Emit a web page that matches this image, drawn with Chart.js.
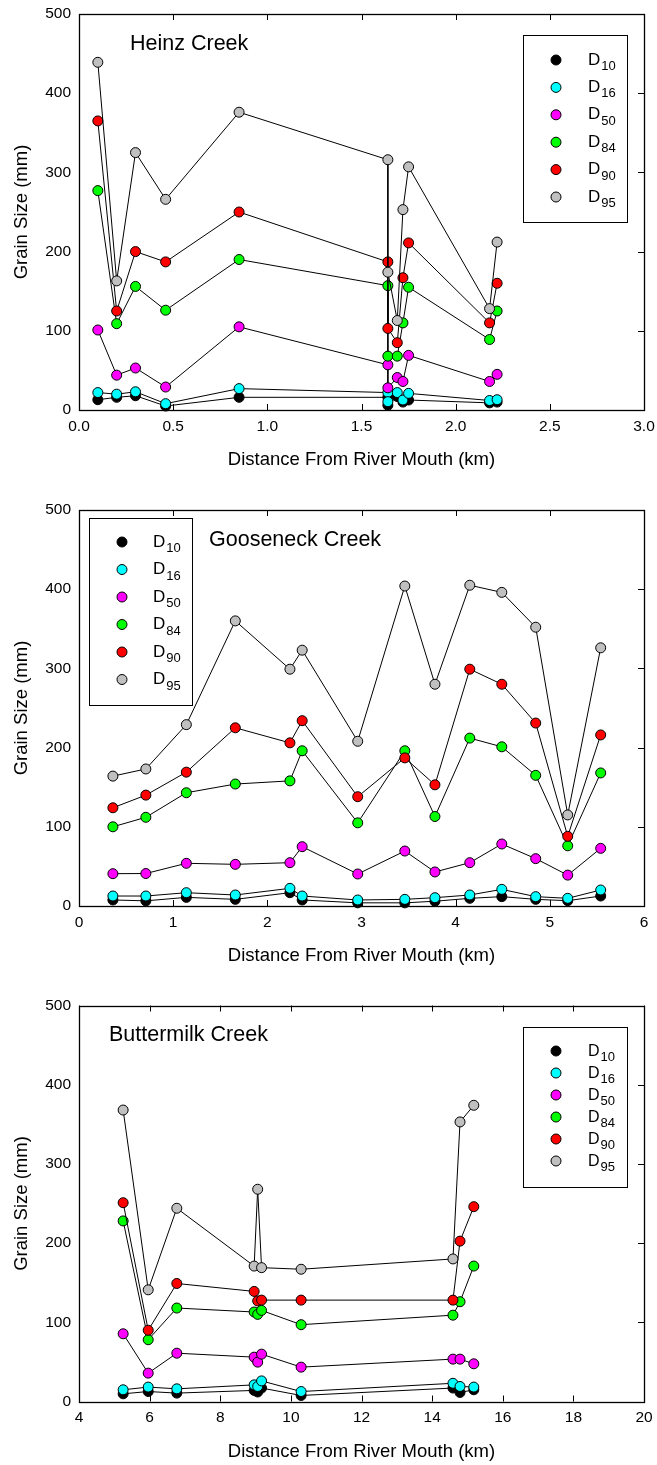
<!DOCTYPE html>
<html>
<head>
<meta charset="utf-8">
<script src="https://cdn.jsdelivr.net/npm/chart.js@4.4.1/dist/chart.umd.min.js"></script>
<style>
  html, body { margin: 0; padding: 0; background: #fff; }
  body { width: 657px; height: 1465px; position: relative; overflow: hidden; }
  canvas { position: absolute; left: 0; }
</style>
</head>
<body>
<canvas id="heinz"></canvas>
<canvas id="goose"></canvas>
<canvas id="butter"></canvas>
<script>
// grain size percentiles, same order in every panel
const sizeSubs = ['10', '16', '50', '84', '90', '95'];
const sizeColors = ['#000000', '#00ffff', '#ff00ff', '#00ff00', '#ff0000', '#c0c0c0'];
const yTicks = [0, 100, 200, 300, 400, 500];

// Heinz Creek
const heinzDist = [0.10, 0.20, 0.30, 0.46, 0.85, 1.64, 1.64, 1.69, 1.72, 1.75, 2.18, 2.22];
const heinzD10 = [13, 16, 18, 5, 16, 16, 6, 17, 10, 12.6, 9, 10];
const heinzD16 = [22, 20, 23, 8, 27, 22, 10.5, 22, 12.6, 21, 12, 13];
const heinzD50 = [101, 44, 53, 29, 105, 57, 28, 41, 36, 69, 36, 45];
const heinzD84 = [277, 109, 156, 126, 190, 157, 68, 68, 110, 155, 89, 125];
const heinzD90 = [365, 125, 200, 187, 250, 187, 103, 85, 167, 211, 110, 160];
const heinzD95 = [439, 163, 325, 266, 376, 316, 174, 113, 253, 307, 128, 212];
const heinzTicks = [0, 0.5, 1.0, 1.5, 2.0, 2.5, 3.0];

// Gooseneck Creek
const gooseDist = [0.36, 0.71, 1.14, 1.66, 2.24, 2.37, 2.96, 3.46, 3.78, 4.15, 4.49, 4.85, 5.19, 5.54];
const gooseD10 = [7.6, 6.5, 10.9, 8.4, 16.8, 7.6, 4, 4, 6, 9.7, 11.8, 8.4, 6.7, 12.6];
const gooseD16 = [12.6, 12.6, 16.8, 13.9, 22.3, 12.6, 7.6, 8.4, 10.5, 13.9, 21, 11.8, 9.7, 20.2];
const gooseD50 = [40.8, 41, 53.9, 52.6, 54.7, 74.9, 40.4, 69.4, 43, 54.7, 78.3, 59.8, 39, 72.8];
const gooseD84 = [100, 112, 143, 154, 158, 196, 105, 196, 113, 212, 201, 165, 76, 168];
const gooseD90 = [124, 140, 169, 225, 206, 234, 138, 187, 153, 299, 280, 231, 88, 216];
const gooseD95 = [164, 173, 229, 360, 299, 323, 208, 404, 280, 405, 396, 352, 115, 326];
const gooseTicks = [0, 1, 2, 3, 4, 5, 6];

// Buttermilk Creek
const butterDist = [5.25, 5.96, 6.77, 8.96, 9.06, 9.17, 10.29, 14.59, 14.79, 15.18];
const butterD10 = [9.7, 12.6, 10.6, 14, 12, 17, 7.6, 17, 11.4, 14.8];
const butterD16 = [14.8, 18.2, 16, 21, 19, 26, 12.6, 23, 19, 18.2];
const butterD50 = [85.5, 35.8, 61, 56, 49.7, 59.8, 43.4, 53.5, 53.5, 47.6];
const butterD84 = [228, 78, 118, 113, 110, 115, 97, 109, 126, 171];
const butterD90 = [251, 90, 149, 139, 127, 128, 128, 128, 202.5, 246];
const butterD95 = [368, 141, 244, 171, 268, 169, 167, 180, 353, 374];
const butterTicks = [4, 6, 8, 10, 12, 14, 16, 18, 20];

const FONT = '"Liberation Sans", Arial, sans-serif';
Chart.defaults.font.family = FONT;
Chart.defaults.color = '#000';

// frame round the plot, small inward ticks on top, bottom and right
const framePlugin = {
  id: 'frame',
  beforeDatasetsDraw(chart) {
    const ctx = chart.ctx, a = chart.chartArea;
    const xs = chart.scales.x, ys = chart.scales.y;
    ctx.save();
    ctx.strokeStyle = '#000';
    ctx.lineWidth = 1;
    ctx.beginPath();
    xs.ticks.forEach(t => {
      const px = Math.round(xs.getPixelForValue(t.value)) + 0.5;
      ctx.moveTo(px, a.bottom); ctx.lineTo(px, a.bottom - 6);
      ctx.moveTo(px, a.top); ctx.lineTo(px, a.top + 6);
    });
    ys.ticks.forEach(t => {
      const py = Math.round(ys.getPixelForValue(t.value)) + 0.5;
      ctx.moveTo(a.right, py); ctx.lineTo(a.right - 6, py);
    });
    ctx.stroke();
    ctx.lineWidth = 1.3;
    ctx.strokeRect(Math.round(a.left) + 0.5, Math.round(a.top) + 0.5,
                   Math.round(a.right - a.left), Math.round(a.bottom - a.top));
    ctx.restore();
  }
};

// panel name and the boxed legend with subscripts
const notesPlugin = {
  id: 'notes',
  afterDraw(chart, args, opts) {
    const ctx = chart.ctx;
    ctx.save();
    ctx.fillStyle = '#000';
    ctx.textBaseline = 'alphabetic';
    ctx.font = '21.5px ' + FONT;
    ctx.fillText(opts.title, opts.titleX, opts.titleY);

    const L = opts.legend;
    ctx.strokeStyle = '#000';
    ctx.lineWidth = 1;
    ctx.strokeRect(L.x + 0.5, L.y + 0.5, L.w, L.h);
    sizeSubs.forEach((s, i) => {
      const my = L.row0 + i * L.gap;
      ctx.beginPath();
      ctx.arc(L.mx, my, 5, 0, Math.PI * 2);
      ctx.fillStyle = sizeColors[i];
      ctx.fill();
      ctx.stroke();
      ctx.fillStyle = '#000';
      ctx.font = L.dSize + 'px ' + FONT;
      ctx.fillText('D', L.tx, my + 4.5);
      const w = ctx.measureText('D').width;
      ctx.font = '13px ' + FONT;
      ctx.fillText(s, L.tx + w + 1, my + 10);
    });
    ctx.restore();
  }
};

function makePanel(id, top, height, areaTop, areaBottom, dist, series, xTicks, decimals, notes) {
  const cv = document.getElementById(id);
  cv.width = 657; cv.height = height;
  cv.style.top = top + 'px';
  cv.style.width = '657px'; cv.style.height = height + 'px';
  const axisH = height - (areaBottom - top);
  const xTitleGap = 50;

  new Chart(cv.getContext('2d'), {
    type: 'line',
    data: {
      datasets: series.map((vals, i) => ({
        label: 'D' + sizeSubs[i],
        data: dist.map((x, j) => ({ x: x, y: vals[j] })),
        borderColor: '#000',
        borderWidth: 1,
        pointRadius: 5,
        pointBackgroundColor: sizeColors[i],
        pointBorderColor: '#000',
        pointBorderWidth: 1,
        fill: false,
        tension: 0,
        order: 5 - i,
        clip: false
      }))
    },
    options: {
      responsive: false,
      animation: false,
      devicePixelRatio: 1,
      layout: { padding: { top: areaTop - top, right: 13, left: 0, bottom: 0 } },
      plugins: { legend: { display: false }, tooltip: { enabled: false }, notes: notes },
      scales: {
        x: {
          type: 'linear',
          min: xTicks[0],
          max: xTicks[xTicks.length - 1],
          afterBuildTicks: s => { s.ticks = xTicks.map(v => ({ value: v })); },
          afterFit: s => { s.height = axisH; s.paddingLeft = 0; s.paddingRight = 0; },
          grid: { display: false, drawTicks: false },
          border: { display: false },
          ticks: {
            autoSkip: false, maxRotation: 0, padding: 7,
            font: { size: 15.5 }, color: '#000',
            callback: v => v.toFixed(decimals)
          },
          title: {
            display: true, text: 'Distance From River Mouth (km)', color: '#000',
            font: { size: 18.5 }, padding: { top: 0, bottom: axisH - xTitleGap - 11.1 }
          }
        },
        y: {
          min: 0, max: 500,
          afterBuildTicks: s => { s.ticks = yTicks.map(v => ({ value: v })); },
          afterFit: s => { s.width = 79; s.paddingTop = 0; s.paddingBottom = 0; },
          grid: { display: false, drawTicks: false },
          border: { display: false },
          ticks: { padding: 8, font: { size: 15.5 }, color: '#000' },
          title: {
            display: true, text: 'Grain Size (mm)', color: '#000',
            font: { size: 18.5 }, padding: { top: 10.5, bottom: 0 }
          }
        }
      }
    },
    plugins: [framePlugin, notesPlugin]
  });
}

makePanel('heinz', 0, 475, 14, 410, heinzDist,
  [heinzD10, heinzD16, heinzD50, heinzD84, heinzD90, heinzD95], heinzTicks, 1,
  { title: 'Heinz Creek', titleX: 130, titleY: 50,
    legend: { x: 523, y: 35, w: 104, h: 187, mx: 556, tx: 588, row0: 60, gap: 27.4, dSize: 17 } });

makePanel('goose', 475, 495, 510, 906, gooseDist,
  [gooseD10, gooseD16, gooseD50, gooseD84, gooseD90, gooseD95], gooseTicks, 0,
  { title: 'Gooseneck Creek', titleX: 209, titleY: 546 - 475,
    legend: { x: 89, y: 518 - 475, w: 103, h: 187, mx: 122, tx: 153, row0: 542 - 475, gap: 27.5, dSize: 17 } });

makePanel('butter', 970, 495, 1005.5, 1401.5, butterDist,
  [butterD10, butterD16, butterD50, butterD84, butterD90, butterD95], butterTicks, 0,
  { title: 'Buttermilk Creek', titleX: 109, titleY: 1041 - 970,
    legend: { x: 523, y: 1027 - 970, w: 104, h: 160, mx: 556, tx: 588, row0: 1051 - 970, gap: 22, dSize: 16 } });
</script>
</body>
</html>
